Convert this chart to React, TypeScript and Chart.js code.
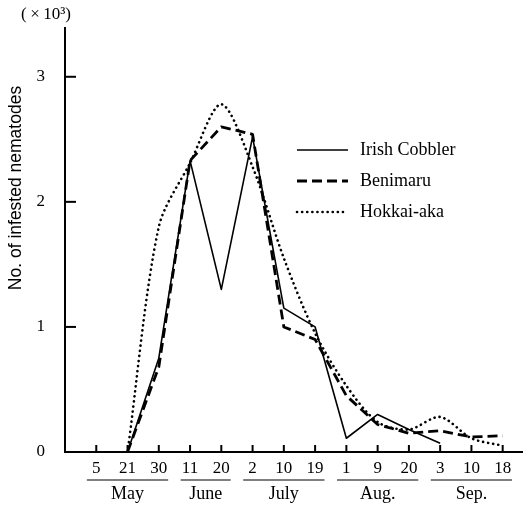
import React, { useEffect, useRef } from "react";
import { Chart, registerables } from "chart.js";

Chart.register(...registerables);

const dayLabels = ["5", "21", "30", "11", "20", "2", "10", "19", "1", "9", "20", "3", "10", "18"];
const months = ["May", "June", "July", "Aug.", "Sep."];
const monthFirst = [0, 3, 5, 8, 11];
const monthLast = [2, 4, 7, 10, 13];
const yTicks = [0, 1, 2, 3];

const irishCobbler = [null, 0, 0.75, 2.33, 1.3, 2.52, 1.15, 1.0, 0.11, 0.3, 0.18, 0.07, null, null];
const benimaru = [null, 0, 0.68, 2.33, 2.6, 2.54, 1.0, 0.9, 0.45, 0.22, 0.15, 0.17, 0.12, 0.13];
const hokkaiAka = [null, 0, 1.8, 2.31, 2.78, 2.28, 1.55, 0.95, 0.53, 0.24, 0.18, 0.28, 0.11, 0.05];

const seriesNames = ["Irish Cobbler", "Benimaru", "Hokkai-aka"];

const SERIF = "'Liberation Serif', 'DejaVu Serif', serif";
const SANS = "'Liberation Sans', Arial, sans-serif";

const toPoints = (arr: (number | null)[]) => arr.map((v, i) => ({ x: i, y: v }));

const styles = [
  { borderWidth: 1.6, borderDash: [] as number[], borderCapStyle: "butt" },
  { borderWidth: 2.8, borderDash: [10, 5], borderCapStyle: "butt" },
  { borderWidth: 2.6, borderDash: [0.1, 5], borderCapStyle: "round" },
];

const decorPlugin = {
  id: "decor",
  afterDraw(chart: any) {
    const ctx = chart.ctx;
    const xs = chart.scales.x;
    const ys = chart.scales.y;
    const area = chart.chartArea;
    ctx.save();
    ctx.strokeStyle = "#000";
    ctx.fillStyle = "#000";
    // x ticks (inward)
    ctx.lineWidth = 2;
    dayLabels.forEach((_, i) => {
      const px = xs.getPixelForValue(i);
      ctx.beginPath();
      ctx.moveTo(px, area.bottom);
      ctx.lineTo(px, area.bottom - 7);
      ctx.stroke();
    });
    // y ticks (inward)
    yTicks.forEach((v) => {
      if (v === 0) return;
      const py = ys.getPixelForValue(v);
      ctx.beginPath();
      ctx.moveTo(area.left, py);
      ctx.lineTo(area.left + 11, py);
      ctx.stroke();
    });
    // month underlines and labels
    ctx.lineWidth = 1.2;
    ctx.font = `18px ${SERIF}`;
    ctx.textAlign = "center";
    ctx.textBaseline = "middle";
    months.forEach((m, k) => {
      const x0 = xs.getPixelForValue(monthFirst[k] - 0.3);
      const x1 = xs.getPixelForValue(monthLast[k] + 0.3);
      ctx.beginPath();
      ctx.moveTo(x0, area.bottom + 28);
      ctx.lineTo(x1, area.bottom + 28);
      ctx.stroke();
      ctx.fillText(m, (x0 + x1) / 2, area.bottom + 42);
    });
    // exponent label
    ctx.font = `17px ${SERIF}`;
    ctx.textAlign = "center";
    ctx.fillText("(\u2009\u00d7\u200910\u00b3)", 46, 15);
    // y title
    ctx.save();
    ctx.translate(16, 188);
    ctx.rotate(-Math.PI / 2);
    ctx.font = `17.5px ${SANS}`;
    ctx.fillText("No. of infested nematodes", 0, 0);
    ctx.restore();
    // legend
    ctx.font = `18px ${SERIF}`;
    ctx.textAlign = "left";
    const legendY = [150, 181, 212];
    seriesNames.forEach((name, k) => {
      const st = styles[k];
      ctx.save();
      ctx.lineWidth = st.borderWidth;
      ctx.setLineDash(st.borderDash);
      ctx.lineCap = st.borderCapStyle as CanvasLineCap;
      ctx.beginPath();
      ctx.moveTo(297, legendY[k]);
      ctx.lineTo(348, legendY[k]);
      ctx.stroke();
      ctx.restore();
      ctx.fillText(name, 360, legendY[k]);
    });
    ctx.restore();
  },
};

export default function App() {
  const ref = useRef<HTMLCanvasElement | null>(null);
  useEffect(() => {
    if (!ref.current) return;
    const datasets = [irishCobbler, benimaru, hokkaiAka].map((arr, k) => ({
      label: seriesNames[k],
      data: toPoints(arr),
      borderColor: "#000",
      backgroundColor: "#000",
      borderWidth: styles[k].borderWidth,
      borderDash: styles[k].borderDash,
      borderCapStyle: styles[k].borderCapStyle,
      borderJoinStyle: "round",
      pointRadius: 0,
      tension: k === 2 ? 0.3 : 0,
      spanGaps: false,
    }));
    const chart = new Chart(ref.current, {
      type: "line",
      data: { datasets } as any,
      plugins: [decorPlugin],
      options: {
        responsive: true,
        maintainAspectRatio: false,
        animation: false,
        layout: { padding: { top: 28, right: 0, left: 0, bottom: 0 } },
        plugins: { legend: { display: false }, tooltip: { enabled: false } },
        scales: {
          x: {
            type: "linear",
            min: -1,
            max: 13.65,
            afterFit: (s: any) => {
              s.height = 54;
            },
            afterBuildTicks: (s: any) => {
              s.ticks = dayLabels.map((_, i) => ({ value: i }));
            },
            grid: { display: false, drawTicks: false, tickLength: 0 },
            border: { display: true, color: "#000", width: 2 },
            ticks: {
              autoSkip: false,
              maxRotation: 0,
              padding: 6,
              color: "#000",
              font: { family: SERIF, size: 17 },
              callback: (v: any) => dayLabels[v] ?? "",
            },
          },
          y: {
            min: 0,
            max: 3.39,
            afterFit: (s: any) => {
              s.width = 65;
            },
            afterBuildTicks: (s: any) => {
              s.ticks = yTicks.map((v) => ({ value: v }));
            },
            grid: { display: false },
            border: { display: true, color: "#000", width: 2 },
            ticks: {
              padding: 12,
              color: "#000",
              font: { family: SERIF, size: 17 },
              callback: (v: any) => String(v),
            },
          },
        },
      } as any,
    });
    return () => chart.destroy();
  }, []);
  return (
    <div style={{ position: "fixed", left: 0, top: 0, width: 523, height: 506, background: "#fff" }}>
      <canvas ref={ref} />
    </div>
  );
}
